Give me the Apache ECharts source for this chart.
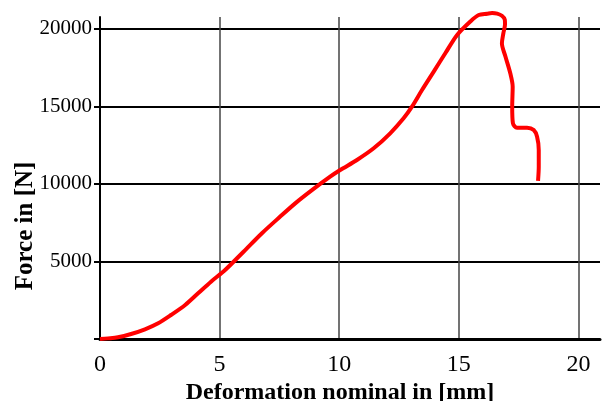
<!DOCTYPE html>
<html>
<head>
<meta charset="utf-8">
<script src="https://cdn.jsdelivr.net/npm/echarts@6/dist/echarts.min.js"></script>
<style>
html,body{margin:0;padding:0;background:#fff;}
#chart{width:602px;height:401px;}
</style>
</head>
<body>
<div id="chart"></div>
<script>
// Deformation nominal [mm]
const deformation = [0, 0.33, 0.75, 1.30, 1.88, 2.43, 2.97, 3.56, 4.10, 4.64, 5.23, 6.0, 6.78, 7.5, 8.16, 8.9, 9.62, 10.04, 10.74, 11.44, 12.13, 12.69, 13.04, 13.46, 13.95, 14.44, 14.92, 15.48, 15.83, 16.18, 16.39, 16.6, 16.8, 16.92, 16.93, 16.86, 16.8, 16.95, 17.15, 17.25, 17.23, 17.26, 17.43, 17.85, 18.13, 18.27, 18.34, 18.34, 18.31];
// Force [N]
const force = [0, 40, 110, 322, 625, 1012, 1548, 2193, 2946, 3698, 4450, 5630, 6837, 7850, 8750, 9650, 10470, 10900, 11546, 12300, 13268, 14235, 14985, 16060, 17250, 18447, 19600, 20480, 20898, 20985, 21030, 20990, 20850, 20600, 20300, 19716, 19071, 18208, 17137, 16274, 14985, 13913, 13630, 13630, 13480, 13050, 12190, 11115, 10200];
const xTicks = [0, 5, 10, 15, 20];
const yTicks = [0, 5000, 10000, 15000, 20000];
const xTitle = 'Deformation nominal in [mm]';
const yTitle = 'Force in [N]';

const points = deformation.map((x, i) => [x, force[i]]);
const serif = '"Liberation Serif", "DejaVu Serif", serif';

const chart = echarts.init(document.getElementById('chart'), null, {renderer: 'canvas'});
chart.setOption({
  animation: false,
  backgroundColor: '#fff',
  grid: {left: 100, right: 2, top: 17, bottom: 62, containLabel: false, outerBoundsMode: 'none'},
  xAxis: {
    type: 'value', min: 0, max: 20.9, interval: 5,
    name: xTitle, nameLocation: 'middle', nameGap: 42, nameMoveOverlap: false,
    nameTextStyle: {fontFamily: serif, fontWeight: 'bold', fontSize: 24, color: '#000', padding: [0, 20, 0, 0]},
    axisLine: {show: true, lineStyle: {color: '#000', width: 3}},
    axisTick: {show: false},
    axisLabel: {
      fontFamily: serif, fontSize: 24, color: '#000', margin: 14,
      customValues: xTicks,
      formatter: v => String(v)
    },
    splitLine: {show: true, lineStyle: {color: ['#444', '#444', '#444', '#444', '#444', 'rgba(0,0,0,0)'], width: 1.5}}
  },
  yAxis: {
    type: 'value', min: 0, max: 20770, interval: 5000,
    name: yTitle, nameLocation: 'middle', nameGap: 62, nameMoveOverlap: false,
    nameTextStyle: {fontFamily: serif, fontWeight: 'bold', fontSize: 25, color: '#000', padding: [0, 96, 0, 0]},
    axisLine: {show: true, lineStyle: {color: '#000', width: 2}},
    axisTick: {show: true, length: 6, lineStyle: {color: '#000', width: 2}, customValues: yTicks},
    axisLabel: {
      fontFamily: serif, fontSize: 21, color: '#000', margin: 8,
      customValues: yTicks.filter(v => v !== 0),
      formatter: v => String(v)
    },
    splitLine: {show: true, lineStyle: {color: ['#000', '#000', '#000', '#000', '#000', 'rgba(0,0,0,0)'], width: 2}}
  },
  series: [{
    type: 'line',
    data: points,
    smooth: 0.3,
    showSymbol: false,
    clip: false,
    lineStyle: {color: '#ff0000', width: 4},
    z: 5
  }]
});
</script>
</body>
</html>
